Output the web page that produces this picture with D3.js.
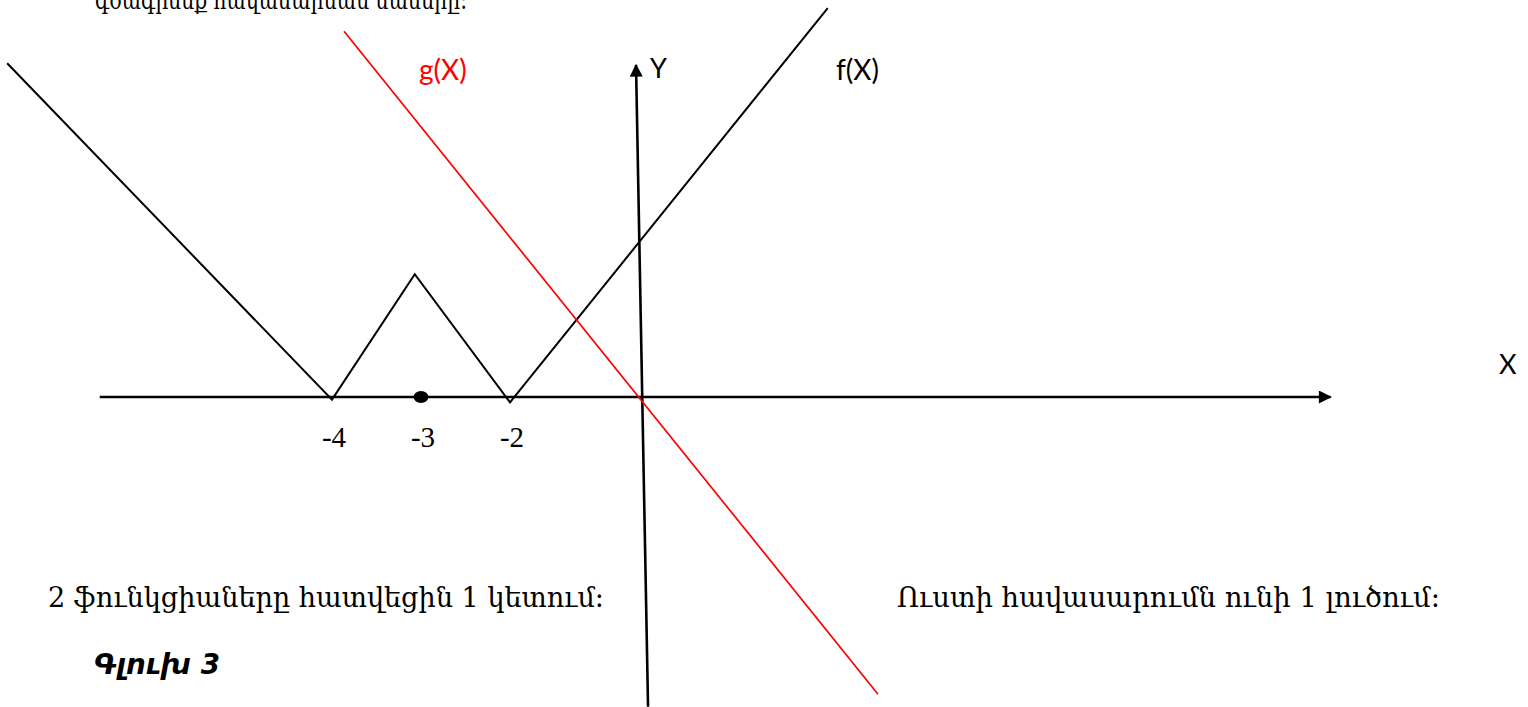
<!DOCTYPE html>
<html>
<head>
<meta charset="utf-8">
<script src="https://cdn.jsdelivr.net/npm/d3@7"></script>
<style>
  html, body { margin: 0; padding: 0; background: #fff; overflow: hidden; }
  svg { display: block; }
</style>
</head>
<body>
<div id="chart"></div>
<script>
// Dữ liệu (đơn vị lưới: 1 = khoảng cách giữa hai vạch -4, -3, -2)
const fX = [-7.65, -4, -3.07, -2, 1.57];
const fY = [3.75, -0.03, 1.38, -0.06, 4.37];
const gX = [-3.865, 2.135];
const gY = [4.11, -3.34];
const xAxisX = [-6.61, 7.22];
const xAxisY = [0, 0];
const yAxisX = [-0.449, -0.584];
const yAxisY = [-3.48, 3.73];
const tickValues = [-4, -3, -2];
const tickLabels = ["-4", "-3", "-2"];
const dotX = [-3];

const width = 1528, height = 707;

const svg = d3.select("#chart")
  .append("svg")
  .attr("width", width)
  .attr("height", height);

const x = d3.scaleLinear().domain([-4, -2]).range([332, 510]);
const y = d3.scaleLinear().domain([0, 1]).range([397, 308]);

// Mũi tên
svg.append("defs").append("marker")
  .attr("id", "arrow")
  .attr("viewBox", "0 0 10 10")
  .attr("refX", 9)
  .attr("refY", 5)
  .attr("markerWidth", 6)
  .attr("markerHeight", 5)
  .attr("markerUnits", "strokeWidth")
  .attr("orient", "auto")
  .append("path")
  .attr("d", "M0,0 L10,5 L0,10 Z")
  .attr("fill", "#000");

const line = d3.line().x(d => x(d[0])).y(d => y(d[1]));

// Trục X
svg.append("path")
  .datum(d3.zip(xAxisX, xAxisY))
  .attr("d", line)
  .attr("stroke", "#000")
  .attr("stroke-width", 2.6)
  .attr("fill", "none")
  .attr("marker-end", "url(#arrow)");

// Trục Y
svg.append("path")
  .datum(d3.zip(yAxisX, yAxisY))
  .attr("d", line)
  .attr("stroke", "#000")
  .attr("stroke-width", 2.6)
  .attr("fill", "none")
  .attr("marker-end", "url(#arrow)");

// f(X)
svg.append("path")
  .datum(d3.zip(fX, fY))
  .attr("d", line)
  .attr("stroke", "#000")
  .attr("stroke-width", 2)
  .attr("fill", "none");

// g(X)
svg.append("path")
  .datum(d3.zip(gX, gY))
  .attr("d", line)
  .attr("stroke", "#ff0000")
  .attr("stroke-width", 1.7)
  .attr("fill", "none");

// Điểm -3
svg.selectAll(".dot")
  .data(dotX)
  .enter()
  .append("ellipse")
  .attr("cx", d => x(d))
  .attr("cy", y(0))
  .attr("rx", 7.5)
  .attr("ry", 6)
  .attr("fill", "#000");

// Nhãn vạch
svg.selectAll(".tick-label")
  .data(tickValues)
  .enter()
  .append("text")
  .attr("x", d => x(d) + 2)
  .attr("y", y(0) + 50)
  .attr("text-anchor", "middle")
  .style("font-family", "'Liberation Serif', serif")
  .style("font-size", "29px")
  .text((d, i) => tickLabels[i]);

// Nhãn
const sans = "Lato, 'Open Sans', sans-serif";
svg.append("text").attr("x", 419).attr("y", 80)
  .style("font-family", sans).style("font-size", "28px").style("fill", "#ff0000")
  .text("g(X)");
svg.append("text").attr("x", 650).attr("y", 78)
  .style("font-family", sans).style("font-size", "27px")
  .text("Y");
svg.append("text").attr("x", 836).attr("y", 80)
  .style("font-family", sans).style("font-size", "28px")
  .text("f(X)");
svg.append("text").attr("x", 1499).attr("y", 374)
  .style("font-family", sans).style("font-size", "27px")
  .text("X");

// Văn bản tiếng Armenia
const serifArm = "'DejaVu Serif', serif";
svg.append("text").attr("x", 95).attr("y", 9)
  .attr("textLength", 372).attr("lengthAdjust", "spacingAndGlyphs")
  .style("font-family", serifArm).style("font-size", "26px")
  .text("գծագրենք հավասարման մասերը:");
svg.append("text").attr("x", 48).attr("y", 607)
  .attr("textLength", 556).attr("lengthAdjust", "spacingAndGlyphs")
  .style("font-family", serifArm).style("font-size", "28px")
  .text("2 ֆունկցիաները հատվեցին 1 կետում:");
svg.append("text").attr("x", 897).attr("y", 607)
  .attr("textLength", 543).attr("lengthAdjust", "spacingAndGlyphs")
  .style("font-family", serifArm).style("font-size", "28px")
  .text("Ուստի հավասարումն ունի 1 լուծում:");
svg.append("text").attr("x", 94).attr("y", 674)
  .attr("textLength", 126).attr("lengthAdjust", "spacingAndGlyphs")
  .style("font-family", "'DejaVu Sans', sans-serif").style("font-size", "28px")
  .style("font-weight", "bold").style("font-style", "italic")
  .text("Գլուխ 3");
</script>
</body>
</html>
